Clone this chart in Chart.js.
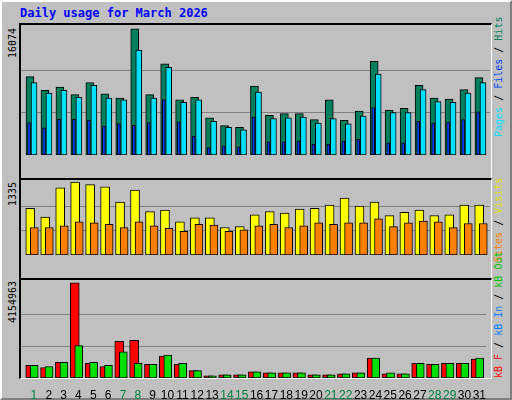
<!DOCTYPE html>
<html>
<head>
<meta charset="utf-8">
<script src="https://cdn.jsdelivr.net/npm/chart.js@4"></script>
<style>
  body { margin: 0; background: #fff; }
  #frame { position: absolute; left: 0; top: 0; width: 508px; height: 396px; background: #c0c0c0;
    border-top: 2px solid #fff; border-left: 2px solid #fff; border-right: 2px solid #808080; border-bottom: 2px solid #808080; }
  .title { position: absolute; left: 20px; top: 6px; font: bold 12px "DejaVu Sans Mono", monospace; color: #0000ff; }
  .panel { position: absolute; left: 19px; width: 470px; border-top: 2px solid #000; border-left: 2px solid #000;
    border-right: 1px solid #fff; border-bottom: 1px solid #fff; }
  .vl { position: absolute; transform: rotate(-90deg); transform-origin: left top; white-space: nowrap;
    font: 10px "DejaVu Sans Mono", monospace; line-height: 12px; }
  canvas { position: absolute; }
</style>
</head>
<body>
<div id="frame"></div>
<div class="title">Daily usage for March 2026</div>
<div class="panel" style="top:23px;height:153px"></div>
<div class="panel" style="top:178px;height:98px"></div>
<div class="panel" style="top:278px;height:98px"></div>
<div class="vl" style="left:7px;top:58px">16074</div>
<div class="vl" style="left:7px;top:206px">1335</div>
<div class="vl" style="left:7px;top:323px">4154963</div>
<div class="vl" style="left:493px;top:137px"><span style="color:#00e0ff">Pages</span> / <span style="color:#0040ff">Files</span> / <span style="color:#00805c">Hits</span></div>
<div class="vl" style="left:493px;top:262px"><span style="color:#ff8000">Sites</span> / <span style="color:#e0e000">Visits</span></div>
<div class="vl" style="left:493px;top:378px"><span style="color:#ff0000">kB F</span> / <span style="color:#0080ff">kB In</span> / <span style="color:#00c000">kB Out</span></div>
<canvas id="c1" style="left:21px;top:25px;width:469px;height:152px"></canvas>
<canvas id="c2" style="left:21px;top:180px;width:469px;height:97px"></canvas>
<canvas id="c3" style="left:21px;top:280px;width:469px;height:120px"></canvas>
<script>
const days = Array.from({length: 31}, (_, i) => i + 1);
const weekendDays = [1, 7, 8, 14, 15, 21, 22, 28, 29];

const hits = [9974, 8226, 8663, 7680, 9209, 7790, 7244, 16074, 7680, 11612, 7025, 7353, 4732, 3749, 3531,
  8772, 5060, 5278, 5278, 4514, 7025, 4404, 5606, 11939, 5715, 5933, 8882, 7244, 7134, 8336, 9864];
const pages = [9209, 7899, 8226, 7353, 8882, 7244, 7025, 13359, 7244, 11175, 6698, 7025, 4295, 3531, 3203,
  8008, 4623, 4732, 4841, 4077, 4623, 3968, 4950, 10301, 5387, 5387, 8336, 6807, 6698, 7899, 9209];
const files = [4113, 3458, 4550, 4550, 4441, 3676, 4004, 3786, 4113, 7062, 4222, 2366, 946, 1165, 1056,
  4841, 1674, 1674, 1784, 1347, 1347, 1784, 2002, 6042, 1565, 1565, 4295, 4077, 4186, 4514, 5496];
const visits = [854, 694, 1233, 1335, 1291, 1248, 971, 1189, 796, 825, 607, 680, 680, 505, 519,
  738, 796, 767, 840, 854, 913, 1044, 898, 971, 723, 781, 825, 723, 738, 913, 913];
const sites = [505, 505, 534, 607, 592, 563, 505, 607, 534, 490, 432, 563, 549, 432, 461,
  534, 563, 505, 534, 592, 563, 592, 592, 665, 519, 592, 621, 607, 505, 578, 578];
const kbF = [548000, 457000, 685000, 4154963, 639000, 502000, 1598000, 1644000, 594000, 959000, 594000, 320000, 91000, 137000, 137000,
  274000, 228000, 228000, 228000, 137000, 137000, 183000, 228000, 868000, 183000, 183000, 639000, 594000, 639000, 639000, 822000];
const kbIn = days.map(() => 30000);
const kbOut = [548000, 502000, 685000, 1415000, 685000, 548000, 1142000, 639000, 594000, 1005000, 639000, 320000, 91000, 137000, 137000,
  274000, 228000, 228000, 228000, 137000, 137000, 183000, 228000, 868000, 228000, 183000, 639000, 594000, 639000, 639000, 868000];

const X_MIN = 0.13, X_MAX = 31.47;

function ds(values, color, offset, width, order) {
  return {
    data: values.map((v, i) => ({x: days[i] + offset, y: v})),
    backgroundColor: color, borderColor: '#000', borderWidth: 1,
    barThickness: width, grouped: false, borderSkipped: false, order
  };
}

function makeChart(id, datasets, max, showX) {
  new Chart(document.getElementById(id), {
    type: 'bar',
    data: {datasets},
    options: {
      responsive: false, animation: false, devicePixelRatio: 1,
      layout: {padding: 0},
      plugins: {legend: {display: false}, tooltip: {enabled: false}},
      scales: {
        x: {
          type: 'linear', min: X_MIN, max: X_MAX, offset: false,
          display: showX,
          border: {display: false},
          grid: {display: false},
          afterBuildTicks: s => { s.ticks = days.map(d => ({value: d})); },
          afterFit: s => { s.height = 22; },
          ticks: {
            autoSkip: false, maxRotation: 0, padding: 4,
            font: {family: 'Liberation Sans', size: 12, lineHeight: 1},
            color: c => weekendDays.includes(c.tick.value) ? '#008040' : '#000',
            callback: v => String(v)
          }
        },
        y: {
          min: 0, max: max * 1.03,
          border: {display: false},
          afterBuildTicks: s => { s.ticks = [{value: max / 3}, {value: max * 2 / 3}]; },
          grid: {color: '#808080', lineWidth: 1, drawTicks: false},
          ticks: {display: false}
        }
      }
    }
  });
}

function size(id) {
  const c = document.getElementById(id);
  c.width = parseInt(c.style.width); c.height = parseInt(c.style.height);
}
['c1', 'c2', 'c3'].forEach(size);

makeChart('c1', [
  ds(hits, '#00805c', -0.27, 8, 3),
  ds(pages, '#00e0ff', 0.0, 6, 2),
  ds(files, '#0040ff', -0.33, 3, 1)
], 16074, false);

makeChart('c2', [
  ds(visits, '#ffff00', -0.25, 9, 2),
  ds(sites, '#ff8000', 0.02, 8, 1)
], 1335, false);

makeChart('c3', [
  ds(kbF, '#ff0000', -0.25, 9, 3),
  ds(kbIn, '#0080ff', -0.4, 2, 1),
  ds(kbOut, '#00e000', 0.02, 8, 2)
], 4154963, true);
</script>
</body>
</html>
